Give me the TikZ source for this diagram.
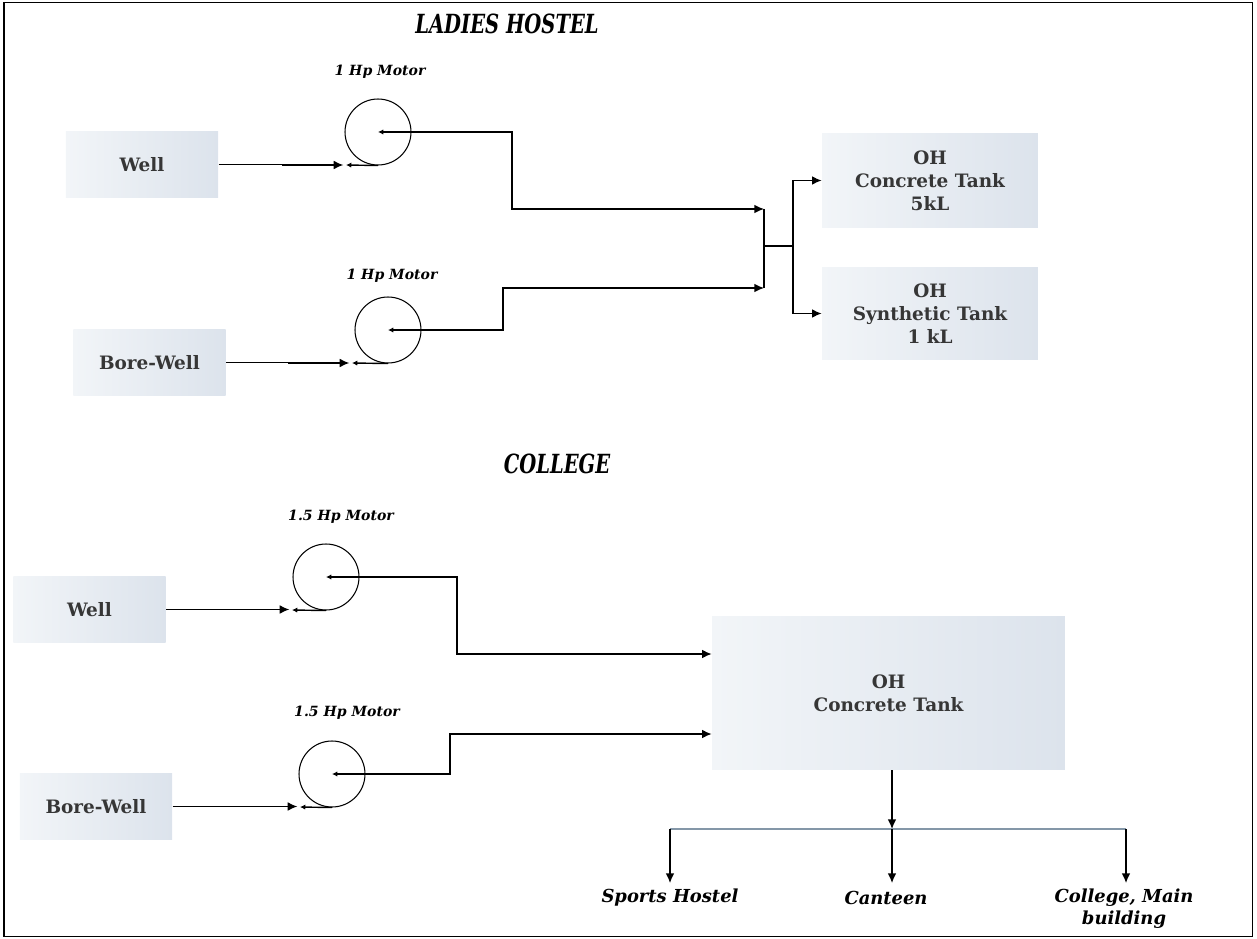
\documentclass[tikz,border=0pt]{standalone}
\usepackage{fontspec}
\usepackage{graphicx}
\setmainfont{DejaVu Serif}
\usetikzlibrary{arrows.meta}

\definecolor{boxleft}{HTML}{F2F5F8}
\definecolor{boxright}{HTML}{DCE3EC}
\definecolor{boxtext}{HTML}{363636}
\definecolor{splitline}{HTML}{8497A8}

% condensed heading text
\newcommand{\narrowtitle}[1]{\scalebox{0.74}[1]{#1}}

\tikzset{
    source/.style={rectangle, draw=none, left color=boxleft, right color=boxright,
        minimum width=3.05cm, minimum height=1.33cm, inner sep=0pt,
        font=\fontsize{10.5}{13}\selectfont\bfseries, text=boxtext, align=center},
    tank/.style={source, minimum width=4.32cm, minimum height=1.9cm},
    motor/.style={circle, draw, line width=0.6pt, minimum size=1.32cm, inner sep=0pt},
    rating/.style={font=\fontsize{8}{10}\selectfont\bfseries\itshape},
    heading/.style={font=\fontsize{15}{17}\selectfont\bfseries\itshape},
    outlet/.style={font=\fontsize{10.2}{12.5}\selectfont\bfseries\itshape, align=center},
    pipe/.style={line width=0.8pt},
    flow/.style={pipe, -{Latex[length=5.5pt,width=5pt]}},
    backtip/.style={pipe, -{Latex[length=3pt,width=3pt]}},
    outflow/.style={pipe, {Latex[length=3pt,width=3pt]}-{Latex[length=5.5pt,width=5pt]}},
}

\begin{document}
\begin{tikzpicture}[x=0.02cm, y=-0.02cm]

    % Page frame
    \useasboundingbox (0,0) rectangle (1257,939);
    \draw[line width=1.1pt] (4,2.5) rectangle (1252.5,936.5);

    % ---------------- Ladies hostel ----------------
    \node[heading] (lhTitle) at (507,24) {\narrowtitle{LADIES HOSTEL}};

    \node[source] (lhWell) at (142,164.5) {Well};
    \node[source] (lhBore) at (149.5,362.5) {Bore-Well};

    \node[motor] (lhMotorA) at (378,132) {};
    \node[motor] (lhMotorB) at (388,330) {};
    \node[rating] (lhRateA) at (380,72) {1 Hp Motor};
    \node[rating] (lhRateB) at (392,276) {1 Hp Motor};

    \node[tank] (lhTankA) at (930,180.5) {OH\\Concrete Tank\\5kL};
    \node[tank, minimum height=1.86cm] (lhTankB) at (930,313.5) {OH\\Synthetic Tank\\1 kL};

    % motor inlets and bends
    \coordinate (lhInA) at (346,165);
    \coordinate (lhInB) at (352,363);
    \coordinate (lhBendA) at (512,209);
    \coordinate (lhBendB) at (503,288);
    \coordinate (lhJoinA) at (764,209);
    \coordinate (lhJoinB) at (764,288);
    \coordinate (lhSplit) at (793,246);

    % suction side
    \draw[flow, shorten >=1.5pt] (lhWell.east) -- ++(64,0) |- (lhInA);
    \draw[flow, shorten >=1.5pt] (lhBore.east) -- ++(63,0) |- (lhInB);
    \draw[backtip] (lhMotorA.south) -- (lhInA);
    \draw[backtip] (lhMotorB.south) -- (lhInB);

    % delivery side
    \draw[outflow] (lhMotorA.center) -| (lhBendA) -- (lhJoinA);
    \draw[outflow] (lhMotorB.center) -| (lhBendB) -- (lhJoinB);
    \draw[pipe] (lhJoinA) -- (lhJoinB) (lhJoinA |- lhSplit) -- (lhSplit);
    \draw[flow] (lhSplit) |- (lhTankA.west);
    \draw[flow] (lhSplit) |- (lhTankB.west);

    % ---------------- College ----------------
    \node[heading] (clTitle) at (557,464) {\narrowtitle{COLLEGE}};

    \node[source] (clWell) at (89.5,609.5) {Well};
    \node[source] (clBore) at (96,806.5) {Bore-Well};

    \node[motor] (clMotorA) at (326,577) {};
    \node[motor] (clMotorB) at (332,774) {};
    \node[rating] (clRateA) at (341,517) {1.5 Hp Motor};
    \node[rating] (clRateB) at (347,713) {1.5 Hp Motor};

    \node[tank, minimum width=7.06cm, minimum height=3.08cm] (clTank) at (888.5,693) {OH\\Concrete Tank};

    \coordinate (clInA) at (292,610);
    \coordinate (clInB) at (300,807);
    \coordinate (clBendA) at (457,654);
    \coordinate (clBendB) at (450,734);

    % suction side
    \draw[flow, shorten >=1.5pt] (clWell.east) -- (clWell.east -| clInA);
    \draw[flow, shorten >=1.5pt] (clBore.east) -- (clBore.east -| clInB);
    \draw[backtip] (clMotorA.south) -- (clInA);
    \draw[backtip] (clMotorB.south) -- (clInB);

    % delivery side
    \draw[outflow] (clMotorA.center) -| (clBendA) -- (clTank.west |- clBendA);
    \draw[outflow] (clMotorB.center) -| (clBendB) -- (clTank.west |- clBendB);

    % distribution
    \node[outlet] (clSports) at (670,898) {Sports Hostel};
    \node[outlet] (clCanteen) at (886,898) {Canteen};
    \node[outlet] (clMain) at (1124,909) {College, Main\\building};

    \coordinate (clSplit) at (892,829);
    \coordinate (clDropA) at (670,829);
    \coordinate (clDropC) at (1126,829);

    \draw[flow] (clTank.south -| clSplit) -- (clSplit);
    \draw[splitline, line width=0.7pt] (clDropA) -- (clDropC);
    \foreach \d in {clDropA, clSplit, clDropC}
        \draw[flow] (\d) -- ++(0,54);

\end{tikzpicture}
\end{document}
